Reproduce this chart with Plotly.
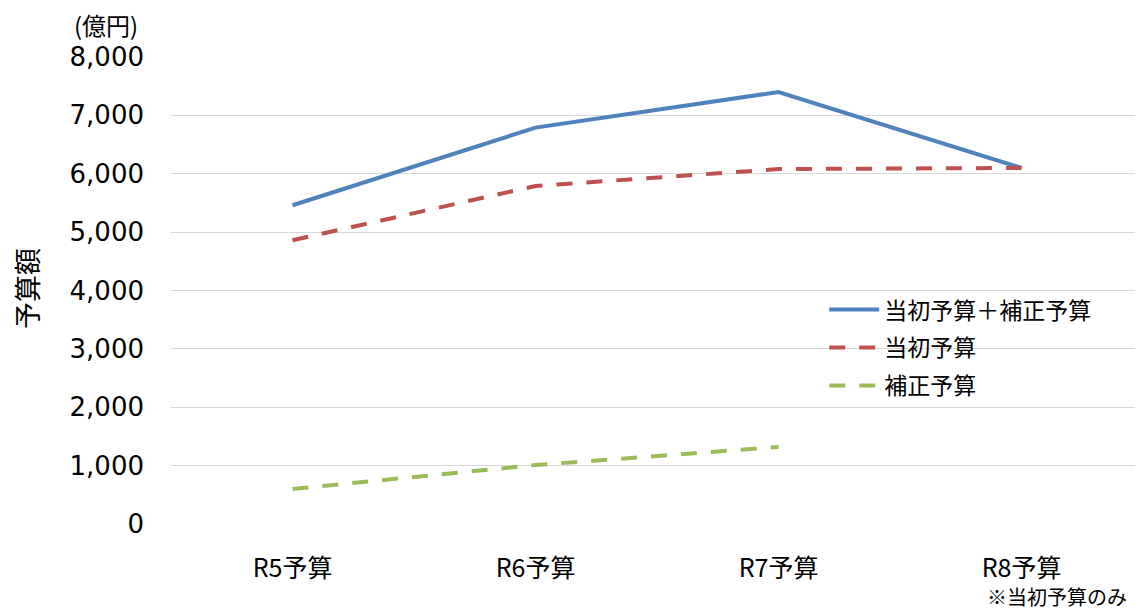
import plotly.graph_objects as go

categories = ["R5予算", "R6予算", "R7予算", "R8予算"]
total = [5460, 6790, 7400, 6100]          # 当初予算＋補正予算
initial = [4860, 5790, 6080, 6100]        # 当初予算
supplementary = [600, 1010, 1320, None]   # 補正予算
y_ticks = [0, 1000, 2000, 3000, 4000, 5000, 6000, 7000, 8000]
y_tick_labels = ["0", "1,000", "2,000", "3,000", "4,000", "5,000", "6,000", "7,000", "8,000"]

JP = "Noto Sans CJK JP"
NUM = "DejaVu Sans, Noto Sans CJK JP"

fig = go.Figure()
fig.add_trace(go.Scatter(x=categories, y=total, mode="lines", name="当初予算＋補正予算",
                         legendgroup="a", line=dict(color="#4F81BD", width=4)))
fig.add_trace(go.Scatter(x=categories, y=initial, mode="lines", name="当初予算",
                         legendgroup="b", line=dict(color="#C0504D", width=4, dash="16px,14px")))
fig.add_trace(go.Scatter(x=categories, y=supplementary, mode="lines", name="補正予算",
                         legendgroup="c", line=dict(color="#9BBB59", width=4, dash="16px,14px")))

# page body has an 8px margin; plot area placed at x 171..1143, y 57..524 of the window
fig.update_layout(
    width=1135, height=602,
    margin=dict(l=163, r=0, t=49, b=86),
    plot_bgcolor="white", paper_bgcolor="white",
    showlegend=True,
    legend=dict(x=0.672, y=0.505, xanchor="left", yanchor="top",
                font=dict(family=JP, size=23, color="#000000"),
                bgcolor="rgba(0,0,0,0)", tracegroupgap=5, itemwidth=50),
    xaxis=dict(type="category", range=[-0.5, 3.5], showgrid=False, showline=False,
               ticks="", tickfont=dict(family=JP, size=25, color="#000000"),
               ticklabelstandoff=27),
    yaxis=dict(range=[0, 8000], tickvals=y_ticks, ticktext=y_tick_labels,
               showgrid=True, gridcolor="#D9D9D9", gridwidth=1.3, zeroline=False,
               showline=False, ticks="",
               tickfont=dict(family=NUM, size=26, color="#000000"),
               ticklabelstandoff=26),
    annotations=[
        dict(text="(億円)", xref="paper", yref="paper", x=(106 - 171) / 972, y=(524 - 25) / 467,
             showarrow=False, font=dict(family=JP, size=24, color="#000000"),
             xanchor="center", yanchor="middle"),
        dict(text="予算額", xref="paper", yref="paper", x=(26 - 171) / 972, y=(524 - 289) / 467,
             showarrow=False, textangle=-90, font=dict(family=JP, size=27, color="#000000"),
             xanchor="center", yanchor="middle"),
        dict(text="※当初予算のみ", xref="paper", yref="paper", x=(1057 - 171) / 972, y=(524 - 596) / 467,
             showarrow=False, font=dict(family=JP, size=20, color="#000000"),
             xanchor="center", yanchor="middle"),
    ],
)

fig.write_html("out.html")
